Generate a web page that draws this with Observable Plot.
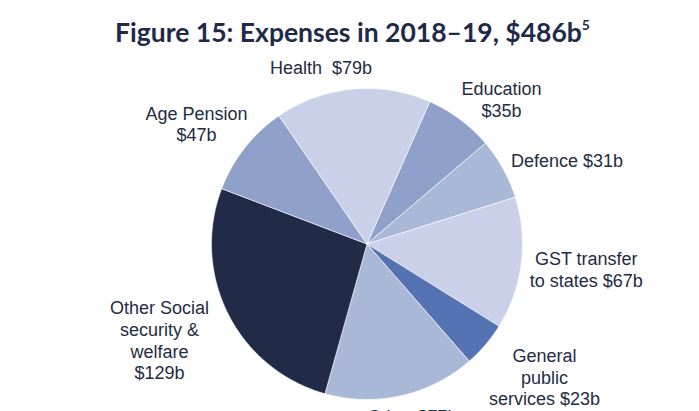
<!DOCTYPE html>
<html>
<head>
<meta charset="utf-8">
<script src="https://cdn.jsdelivr.net/npm/d3@7"></script>
<script src="https://cdn.jsdelivr.net/npm/@observablehq/plot@0.6"></script>
<style>
  html, body { margin: 0; padding: 0; background: #fff; }
  #title { height: 55px; box-sizing: border-box; padding-top: 17px; text-align: center; padding-left: 6px;
    font-family: Lato, "Open Sans", sans-serif; font-weight: 700; font-size: 26.5px; color: #1f2a48; line-height: 30px; white-space: nowrap; }
  #title sup { font-size: 14px; vertical-align: 0; position: relative; top: -12px; }
  #chart svg { display: block; }
</style>
</head>
<body>
<div id="title">Figure 15: Expenses in 2018–19, $486b<sup>5</sup></div>
<div id="chart"></div>
<script>
// Data (clockwise from the Education slice)
const categories = ["Education", "Defence", "GST transfer to states", "General public services", "Other", "Other Social security & welfare", "Age Pension", "Health"];
const values = [35, 31, 67, 23, 77, 129, 47, 79];
const labelLines = [
  ["Education", "$35b"],
  ["Defence $31b"],
  ["GST transfer", "to states $67b"],
  ["General", "public", "services $23b"],
  ["Other $77b"],
  ["Other Social", "security &", "welfare", "$129b"],
  ["Age Pension", "$47b"],
  ["Health  $79b"]
];
const sliceColors = ["#8fa1cb", "#aab8d8", "#c9d0e8", "#5573b3", "#aab8d8", "#212b47", "#8fa1cb", "#c9d0e8"];
// Layout (label anchor points in pie-radius units, start angle in degrees clockwise from 12 o'clock)
const startAngleDeg = 23.8;
const labelX = [0.865, 1.286, 1.410, 1.141, 0.293, -1.334, -1.096, -0.296];
const labelY = [0.932, 0.537, -0.161, -0.855, -1.109, -0.617, 0.775, 1.135];

const total = d3.sum(values);
const pts = [];
let acc = 0;
categories.forEach((c, i) => {
  const a0 = (startAngleDeg * Math.PI / 180) + acc / total * 2 * Math.PI;
  acc += values[i];
  const a1 = (startAngleDeg * Math.PI / 180) + acc / total * 2 * Math.PI;
  pts.push({key: c, x: 0, y: 0});
  const n = Math.max(2, Math.ceil((a1 - a0) / (Math.PI / 360)));
  for (let k = 0; k <= n; k++) {
    const a = a0 + (a1 - a0) * k / n;
    pts.push({key: c, x: Math.sin(a), y: Math.cos(a)});
  }
  pts.push({key: c, x: 0, y: 0});
});
const labels = categories.map((c, i) => ({key: c, text: labelLines[i].join("\n"), x: labelX[i], y: labelY[i]}));

const cx = 366.5, cy = 188.5, r = 155.5;
const chart = Plot.plot({
  width: 699,
  height: 356,
  margin: 0,
  x: {domain: [-1, 1], range: [cx - r, cx + r], axis: null},
  y: {domain: [-1, 1], range: [cy + r, cy - r], axis: null},
  color: {domain: categories, range: sliceColors},
  style: {background: "#fff", overflow: "hidden"},
  marks: [
    Plot.line(pts, {x: "x", y: "y", z: "key", fill: "key", stroke: "#ffffff", strokeWidth: 0.6, curve: "linear"}),
    Plot.text(labels, {x: "x", y: "y", text: "text", fill: "#232c45", fontSize: 18, lineHeight: 1.2,
      fontFamily: "'Liberation Sans', Arial, sans-serif", textAnchor: "middle"})
  ]
});
document.getElementById("chart").appendChild(chart);
</script>
</body>
</html>
